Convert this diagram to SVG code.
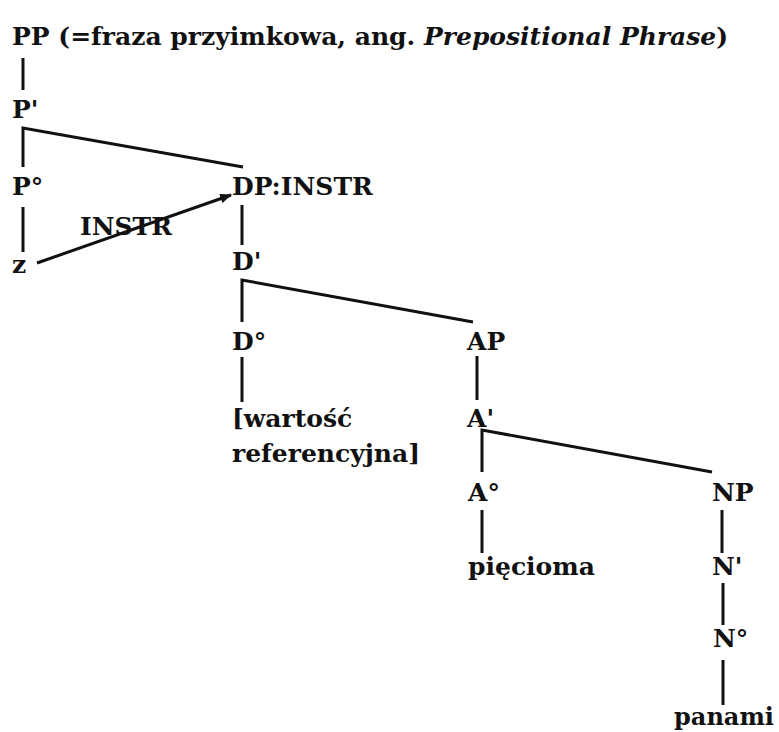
<svg xmlns="http://www.w3.org/2000/svg" width="779" height="732" viewBox="0 0 779 732">
  <style>
    text { font-family: "DejaVu Serif", "Liberation Serif", serif; font-weight: bold; font-size: 25px; fill: #111; }
    .it { font-style: italic; }
    .edge { stroke: #111; stroke-width: 3; fill: none; stroke-linecap: butt; }
  </style>
  <defs>
    <marker id="arrow" viewBox="0 0 10 10" refX="9" refY="5" markerWidth="4" markerHeight="4" orient="auto" markerUnits="strokeWidth">
      <path d="M0,1 L10,5 L0,9 z" fill="#111"/>
    </marker>
  </defs>
  <rect width="779" height="732" fill="#fff"/>

  <g id="connectors">
    <line class="edge" x1="23" y1="58" x2="23" y2="90"/>
    <polyline class="edge" points="23,167 23,128 243,167"/>
    <line class="edge" x1="23" y1="207" x2="23" y2="252"/>
    <line class="edge" x1="37" y1="263" x2="231" y2="195" marker-end="url(#arrow)"/>
    <line class="edge" x1="242" y1="205" x2="242" y2="245"/>
    <polyline class="edge" points="242,322 242,280 473,322"/>
    <line class="edge" x1="242" y1="357" x2="242" y2="402"/>
    <line class="edge" x1="477" y1="356" x2="477" y2="400"/>
    <polyline class="edge" points="482,472 482,430 712,472"/>
    <line class="edge" x1="482" y1="510" x2="482" y2="553"/>
    <line class="edge" x1="722" y1="510" x2="722" y2="553"/>
    <line class="edge" x1="723" y1="583" x2="723" y2="625"/>
    <line class="edge" x1="723" y1="660" x2="723" y2="705"/>
  </g>

  <g id="PP"><text x="12" y="45">PP (=fraza przyimkowa, ang. <tspan class="it">Prepositional Phrase</tspan>)</text></g>
  <g id="P1"><text x="12" y="118">P'</text></g>
  <g id="P0"><text x="12" y="195">P°</text></g>
  <g id="z"><text x="12" y="273">z</text></g>
  <g id="INSTR"><text x="80" y="235">INSTR</text></g>
  <g id="DP"><text x="232" y="195">DP:INSTR</text></g>
  <g id="D1"><text x="232" y="270">D'</text></g>
  <g id="D0"><text x="232" y="350">D°</text></g>
  <g id="ref"><text x="232" y="427">[wartość</text><text x="232" y="462">referencyjna]</text></g>
  <g id="AP"><text x="467" y="350">AP</text></g>
  <g id="A1"><text x="467" y="427">A'</text></g>
  <g id="A0"><text x="468" y="501">A°</text></g>
  <g id="piecioma"><text x="468" y="575">pięcioma</text></g>
  <g id="NP"><text x="712" y="501">NP</text></g>
  <g id="N1"><text x="712" y="575">N'</text></g>
  <g id="N0"><text x="713" y="647">N°</text></g>
  <g id="panami"><text x="674" y="725" textLength="100" lengthAdjust="spacingAndGlyphs">panami</text></g>
</svg>
